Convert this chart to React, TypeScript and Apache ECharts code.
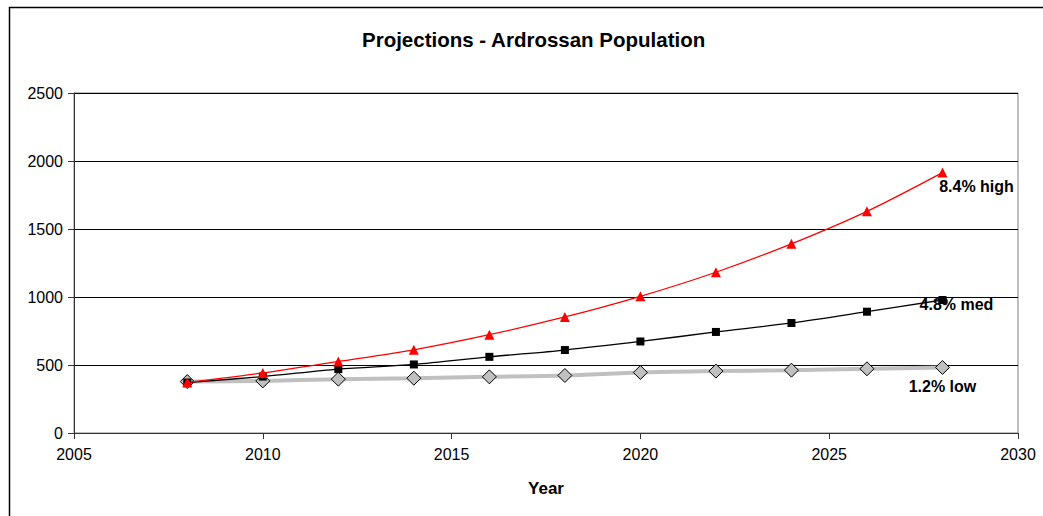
import React, { useEffect, useRef } from "react";
import * as echarts from "echarts";

const years = [2008, 2010, 2012, 2014, 2016, 2018, 2020, 2022, 2024, 2026, 2028];
const highValues = [371, 442, 526, 612, 723, 853, 1005, 1182, 1391, 1630, 1915];
const medValues = [371, 415, 470, 504, 560, 610, 673, 743, 809, 892, 978];
const lowValues = [378, 383, 396, 403, 413, 423, 445, 455, 462, 472, 482];
const seriesLabels = ["8.4% high", "4.8% med", "1.2% low"];
const yTicks = [0, 500, 1000, 1500, 2000, 2500];
const xTicks = [2005, 2010, 2015, 2020, 2025, 2030];

const font = "Arial, 'Liberation Sans', sans-serif";
const labelFont = { fontFamily: font, fontWeight: "bold" as const, fontSize: 16, color: "#000" };

function build(values: number[], label: string, offset: number[]) {
  return values.map((v, i) => {
    if (i === values.length - 1) {
      return {
        value: [years[i], v],
        label: { show: true, formatter: label, position: "inside", offset, ...labelFont },
      };
    }
    return { value: [years[i], v] };
  });
}

export default function App() {
  const ref = useRef<HTMLDivElement>(null);
  useEffect(() => {
    if (!ref.current) return;
    const chart = echarts.init(ref.current, null, { renderer: "svg" });
    chart.setOption({
      animation: false,
      backgroundColor: "#fff",
      title: {
        text: "Projections - Ardrossan Population",
        left: 357,
        top: 24,
        textStyle: { fontFamily: font, fontWeight: "bold", fontSize: 20.5, color: "#000" },
      },
      graphic: [
        {
          type: "rect",
          shape: { x: 9.5, y: 7.5, width: 1200, height: 700 },
          style: { fill: "none", stroke: "#000", lineWidth: 1.5 },
          silent: true,
        },
      ],
      grid: {
        left: 74,
        right: 25,
        top: 93,
        bottom: 83,
        show: true,
        borderColor: "#808080",
        borderWidth: 1,
      },
      xAxis: {
        type: "value",
        min: xTicks[0],
        max: xTicks[xTicks.length - 1],
        interval: 5,
        name: "Year",
        nameLocation: "middle",
        nameGap: 47,
        nameTextStyle: { fontFamily: font, fontWeight: "bold", fontSize: 17, color: "#000" },
        axisLine: { show: true, lineStyle: { color: "#333", width: 1 } },
        axisTick: { show: true, length: 6, inside: false, lineStyle: { color: "#333" } },
        axisLabel: {
          fontFamily: font,
          fontSize: 16,
          color: "#000",
          margin: 13,
          formatter: (v: number) => String(v),
        },
        splitLine: { show: false },
      },
      yAxis: {
        type: "value",
        min: yTicks[0],
        max: yTicks[yTicks.length - 1],
        interval: 500,
        axisLine: { show: true, lineStyle: { color: "#333", width: 1 } },
        axisTick: { show: true, length: 6, lineStyle: { color: "#333" } },
        axisLabel: {
          fontFamily: font,
          fontSize: 16,
          color: "#000",
          margin: 11,
          formatter: (v: number) => String(v),
        },
        splitLine: { show: true, lineStyle: { color: "#000", width: 1 } },
      },
      series: [
        {
          type: "line",
          name: "low",
          data: build(lowValues, seriesLabels[2], [0, 19]),
          smooth: 0.3,
          symbol: "diamond",
          symbolSize: 14,
          lineStyle: { color: "#c0c0c0", width: 4 },
          itemStyle: { color: "#c0c0c0", borderColor: "#000", borderWidth: 1 },
          z: 2,
        },
        {
          type: "line",
          name: "med",
          data: build(medValues, seriesLabels[1], [14, 5]),
          smooth: 0.3,
          symbol: "rect",
          symbolSize: 8,
          lineStyle: { color: "#000", width: 1.3 },
          itemStyle: { color: "#000" },
          z: 3,
        },
        {
          type: "line",
          name: "high",
          data: build(highValues, seriesLabels[0], [34, 14]),
          smooth: 0.3,
          symbol: "triangle",
          symbolSize: 10,
          lineStyle: { color: "#ff0000", width: 1.3 },
          itemStyle: { color: "#ff0000" },
          z: 4,
        },
      ],
    });
    return () => chart.dispose();
  }, []);
  return (
    <div
      ref={ref}
      style={{ position: "fixed", left: 0, top: 0, width: 1043, height: 516 }}
    />
  );
}
